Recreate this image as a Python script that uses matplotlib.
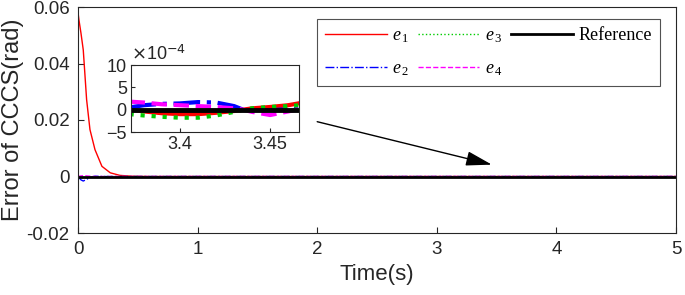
import matplotlib
matplotlib.use("Agg")
import matplotlib.pyplot as plt
import numpy as np

# ---- main curves (rad) ----
t_main = [0, 0.008, 0.025, 0.044, 0.072, 0.1, 0.142, 0.2, 0.27, 0.35, 0.45, 0.6, 1, 2, 3, 4, 5]
e1_main = [0.0581, 0.0554, 0.0507, 0.0448, 0.0272, 0.0166, 0.0095, 0.0036, 0.0013,
           0.0004, 0.0001, 0, 0, 0, 0, 0, 0]
e2_main = [0, -0.0004, -0.0012, -0.0016, -0.0010, -0.0003, 0.0001, 0, 0, 0, 0, 0, 0, 0, 0, 0, 0]
e3_main = [0, -0.0001, -0.0003, -0.0005, -0.0004, -0.0002, -0.0001, 0, 0, 0, 0, 0, 0, 0, 0, 0, 0]
e4_main = [0, 0.0001, 0.0002, 0.0003, 0.0002, 0.0001, 0, 0, 0, 0, 0, 0, 0, 0, 0, 0, 0]

# ---- zoomed window (x1e-4 rad) ----
t_zoom = [3.372, 3.38, 3.39, 3.40, 3.41, 3.42, 3.43, 3.435, 3.44, 3.45, 3.46, 3.467]
e1_zoom = [0.0, -0.4, -0.8, -1.0, -1.0, -0.7, -0.3, 0.0, 0.3, 0.6, 1.0, 1.5]
e2_zoom = [0.5, 1.0, 1.3, 1.4, 1.7, 1.6, 0.8, 0.0, -0.2, -0.1, 0.1, 0.2]
e3_zoom = [-1.0, -1.3, -1.6, -1.8, -1.8, -1.3, -0.5, 0.0, 0.3, 0.6, 0.8, 1.0]
e4_zoom = [1.8, 1.6, 1.2, 1.0, 0.8, 0.6, 0.3, 0.0, -0.5, -1.2, -0.4, 0.2]

plt.rcParams["mathtext.fontset"] = "custom"
plt.rcParams["mathtext.it"] = "Liberation Serif:italic"
plt.rcParams["mathtext.rm"] = "Liberation Serif"

axis_col = "#262626"
sans = ["Liberation Sans", "DejaVu Sans"]
serif = ["Liberation Serif", "DejaVu Serif"]

fig = plt.figure(figsize=(6.85, 2.95), dpi=100)
W, H = 685, 295
ax = fig.add_axes([78 / W, 1 - 233 / H, (676 - 78) / W, (233 - 7) / H])

ax.plot(t_main, e1_main, color="red", lw=1.0, label="$e_{\\,1}$")
ax.plot(t_main, e2_main, color="blue", lw=1.0, ls="-.", label="$e_{\\,2}$")
ax.plot(t_main, e3_main, color="#00cc00", lw=1.0, ls=":", label="$e_{\\,3}$")
ax.plot(t_main, e4_main, color="magenta", lw=1.0, ls="--", label="$e_{\\,4}$")
ax.plot([0, 5], [0, 0], color="black", lw=2.0, label="Reference")

ax.set_xlim(0, 5)
ax.set_ylim(-0.02, 0.06)
ax.set_xticks([0, 1, 2, 3, 4, 5])
ax.set_yticks([-0.02, 0, 0.02, 0.04, 0.06])
ax.set_yticklabels(["-0.02", "0", "0.02", "0.04", "0.06"])
ax.tick_params(direction="in", length=4, labelsize=13.5, colors=axis_col, pad=6)
for lab in ax.get_xticklabels() + ax.get_yticklabels():
    lab.set_family(sans)
for s in ax.spines.values():
    s.set_color(axis_col)
    s.set_linewidth(0.8)
ax.set_xlabel("Time(s)", fontsize=16, family=sans, color=axis_col, labelpad=4)
ax.set_ylabel("Error of CCCS(rad)", fontsize=17, family=sans, color=axis_col, labelpad=2)

handles, labels = ax.get_legend_handles_labels()
leg = ax.legend(handles, labels,
                ncol=3, loc="upper left", bbox_to_anchor=((317 - 78) / 598, 1 - (19 - 7) / 226),
                prop={"family": serif, "size": 13}, frameon=True, fancybox=False,
                edgecolor=axis_col, handlelength=3.4, columnspacing=0.5,
                borderpad=0.45, labelspacing=0.85, handletextpad=0.3, borderaxespad=0)
leg.get_frame().set_linewidth(0.8)

ax.annotate("", xy=(3.46, 0.0042), xytext=(2.0, 0.0194),
            arrowprops=dict(arrowstyle="-|>,head_length=1.6,head_width=0.45",
                            color="black", lw=1.0, shrinkA=0, shrinkB=0))

# inset
ins = fig.add_axes([131 / W, 1 - 132 / H, (299 - 131) / W, (132 - 65) / H])
ins.plot(t_zoom, e1_zoom, color="red", lw=3)
ins.plot(t_zoom, e2_zoom, color="blue", lw=3, ls="-.")
ins.plot(t_zoom, e3_zoom, color="#00cc00", lw=3, ls=":")
ins.plot(t_zoom, e4_zoom, color="magenta", lw=3, ls="--")
ins.plot([3.372, 3.467], [0, 0], color="black", lw=3.5)
ins.set_xlim(3.3728, 3.466)
ins.set_ylim(-5, 10)
ins.set_xticks([3.4, 3.45])
ins.set_xticklabels(["3.4", "3.45"])
ins.set_yticks([-5, 0, 5, 10])
ins.tick_params(direction="in", length=3, labelsize=13, colors=axis_col, pad=3)
for lab in ins.get_xticklabels() + ins.get_yticklabels():
    lab.set_family(sans)
for s in ins.spines.values():
    s.set_color(axis_col)
    s.set_linewidth(0.8)
ins.text(0.0, 1.02, r"$\mathsf{\times}$10$^{\mathsf{-4}}$", transform=ins.transAxes, fontsize=13,
         family=sans, color=axis_col, ha="left", va="bottom")

fig.savefig("out.png", dpi=100)
